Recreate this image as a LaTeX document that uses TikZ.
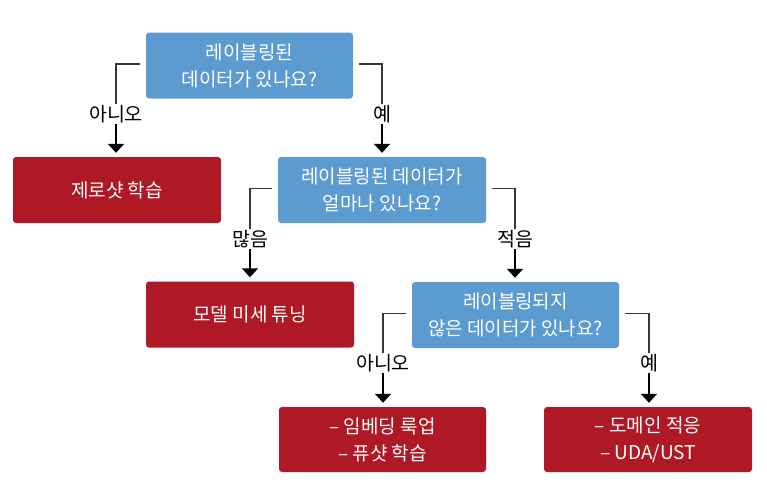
\documentclass[tikz,border=0pt]{standalone}
\usepackage{fontspec}
\setmainfont{Noto Sans CJK KR}
\usetikzlibrary{arrows.meta}
\definecolor{qblue}{RGB}{91,155,208}
\definecolor{ared}{RGB}{175,25,38}
\definecolor{lgray}{RGB}{55,55,55}
\tikzset{
  qbox/.style={rectangle, rounded corners=3pt, fill=qblue, text=white, align=center,
    minimum width=207pt, minimum height=66pt, inner sep=0pt, font=\fontsize{19}{27}\selectfont},
  abox/.style={rectangle, rounded corners=3pt, fill=ared, text=white, align=center,
    minimum width=208pt, minimum height=66pt, inner sep=0pt, font=\fontsize{19}{27}\selectfont},
  lab/.style={font=\fontsize{19.5}{20}\selectfont, inner sep=1pt, text=black},
  conn/.style={draw=lgray, line width=1.8pt},
  arr/.style={draw=black, line width=1.8pt, -{Triangle[width=16pt,length=9pt]}, shorten >=4pt}
}
\begin{document}
\begin{tikzpicture}[x=1pt,y=-1pt]
\useasboundingbox (0,0) rectangle (767,483);
\node[qbox] (b1) at (249.5,65.5) {레이블링된\\데이터가 있나요?};
\node[abox] (zero) at (117,190) {제로샷 학습};
\node[qbox, minimum width=208pt] (b2) at (382,190) {레이블링된 데이터가\\얼마나 있나요?};
\node[abox] (fine) at (250,314.5) {모델 미세 튜닝};
\node[qbox] (b3) at (515.5,315) {레이블링되지\\않은 데이터가 있나요?};
\node[abox, minimum width=207pt, minimum height=65pt] (bl) at (382.5,439.5) {– 임베딩 룩업\\– 퓨샷 학습};
\node[abox, minimum height=65pt] (br) at (648,439.5) {– 도메인 적응\\– UDA/UST};

\node[lab] (l1) at (116,114) {아니오};
\node[lab] (l2) at (382,114) {예};
\node[lab] (l3) at (250,239) {많음};
\node[lab] (l4) at (515,239) {적음};
\node[lab] (l5) at (383,363) {아니오};
\node[lab] (l6) at (649,363) {예};

\draw[conn] ([xshift=-6pt,yshift=1.5pt]b1.west) -| (l1.north);
\draw[arr] (l1.south) -- (l1.south |- zero.north);
\draw[conn] ([xshift=6pt,yshift=1.5pt]b1.east) -| (l2.north);
\draw[arr] (l2.south) -- (l2.south |- b2.north);
\draw[conn] ([xshift=-6pt,yshift=1.5pt]b2.west) -| (l3.north);
\draw[arr] (l3.south) -- (l3.south |- fine.north);
\draw[conn] ([xshift=6pt,yshift=1.5pt]b2.east) -| (l4.north);
\draw[arr] (l4.south) -- (l4.south |- b3.north);
\draw[conn] ([xshift=-6pt,yshift=1.5pt]b3.west) -| (l5.north);
\draw[arr] (l5.south) -- (l5.south |- bl.north);
\draw[conn] ([xshift=6pt,yshift=1.5pt]b3.east) -| (l6.north);
\draw[arr] (l6.south) -- (l6.south |- br.north);
\end{tikzpicture}
\end{document}
